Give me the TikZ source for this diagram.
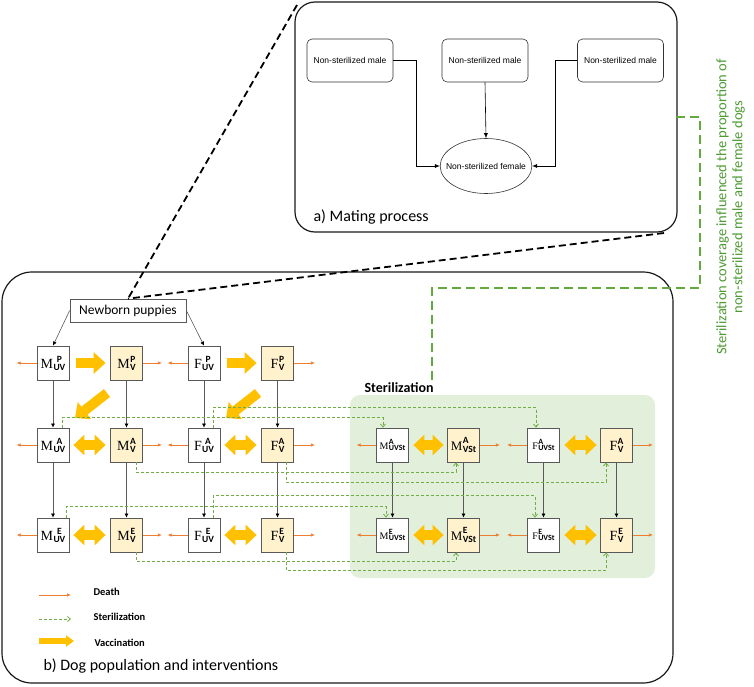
\documentclass[tikz,border=0pt]{standalone}
\usepackage{fontspec}
\setmainfont{Carlito}
\newfontfamily\serifm{Liberation Serif}
\newfontfamily\arialf{Liberation Sans}
\usetikzlibrary{arrows.meta,shapes.geometric,calc}
\definecolor{boxgray}{HTML}{595959}
\definecolor{vfill}{HTML}{FFF2CC}
\definecolor{deathc}{HTML}{ED7D31}
\definecolor{sterc}{HTML}{70AD47}
\definecolor{vaccc}{HTML}{FFC000}
\definecolor{stbg}{HTML}{E2EFDA}
\definecolor{bigg}{HTML}{62AA40}
\definecolor{txtg}{HTML}{4E9A34}
\newdimen\stkw
% #1 main size, #2 script size, #3 sup raise, #4 sub lower, #5 align, #6 letter, #7 sup, #8 sub
\newcommand\stklab[8]{\mbox{{\serifm\fontsize{#1}{#1}\selectfont #6}\kern0.4pt%
  \begingroup\fontsize{#2}{#2}\selectfont\bfseries
  \setbox0\hbox{#7}\setbox2\hbox{#8}%
  \ifdim\wd0>\wd2 \global\stkw=\wd0 \else\global\stkw=\wd2 \fi
  \makebox[\stkw][#5]{\raisebox{#3}{\box0}}\kern-\stkw
  \makebox[\stkw][#5]{\raisebox{-#4}{\box2}}%
  \endgroup}}
\newcommand\dl[3]{\stklab{14}{9.5}{6.3pt}{1.7pt}{c}{#1}{#2}{#3}}
\newcommand\dls[3]{\stklab{10}{8}{5pt}{1.5pt}{l}{#1}{#2}{#3}}
\newcommand\dlm[3]{\stklab{13}{9.5}{6.8pt}{2pt}{l}{#1}{#2}{#3}}
\tikzset{
  panel/.style={draw=black!90, line width=1.2pt},
  mate/.style={draw=black!80, line width=0.6pt, rounded corners=5pt, minimum width=86pt, minimum height=43pt, inner sep=0pt, font=\arialf\fontsize{8.5}{8.5}\selectfont},
  matearr/.style={draw=black, line width=0.6pt, -{Latex[length=5pt,width=4pt]}},
  bigdash/.style={draw=black, line width=1.8pt, dash pattern=on 7pt off 4pt},
  greendash/.style={draw=bigg, line width=2pt, dash pattern=on 9pt off 5pt},
  box/.style={draw=boxgray, line width=0.8pt, minimum width=32pt, minimum height=34pt, inner sep=0pt},
  uv/.style={box, fill=white},
  vv/.style={box, fill=vfill},
  death/.style={draw=deathc, line width=0.7pt, -{Latex[length=4pt,width=3.5pt]}},
  flow/.style={draw=boxgray, line width=0.6pt, -{Latex[length=4pt,width=4pt,color=black]}},
  steril/.style={draw=sterc, line width=0.8pt, dash pattern=on 3pt off 2pt, -{Straight Barb[length=3pt,width=5pt]}},
  vacc/.style={draw=vaccc, line width=10pt, -{Triangle[length=12pt,width=21pt]}},
  vaccd/.style={draw=vaccc, line width=10pt, {Triangle[length=11pt,width=20pt]}-{Triangle[length=11pt,width=20pt]}},
  vaccs/.style={draw=vaccc, line width=6pt, -{Triangle[length=8pt,width=11pt]}},
  legtxt/.style={anchor=west, font=\bfseries\fontsize{10.5}{10.5}\selectfont},
  ptitle/.style={anchor=west, font=\fontsize{16}{16}\selectfont},
}
\begin{document}
\begin{tikzpicture}[x=1pt,y=-1pt]
\useasboundingbox (0,0) rectangle (754,686);

% ---------- panel a ----------
\draw[panel, rounded corners=20pt] (295,2) rectangle (677,232);
\coordinate (aTL) at (297,5);
\coordinate (aBR) at (664,233);
\coordinate (aR) at (676,117);
\node[mate] (m1) at (350,60.5) {Non-sterilized male};
\node[mate] (m2) at (485,60.5) {Non-sterilized male};
\node[mate] (m3) at (620.5,60.5) {Non-sterilized male};
\node[ellipse, draw=black!80, line width=0.6pt, minimum height=55pt, inner xsep=-7.5pt, inner ysep=0pt,
      font=\arialf\fontsize{8.5}{8.5}\selectfont] (fem) at (486,166) {Non-sterilized female};
\draw[matearr] (m1.east) -- ++(23,0) |- (fem.west);
\draw[matearr] (m3.west) -- ++(-22,0) |- (fem.east);
\draw[matearr] (m2.south) -- (fem.north);
\node[ptitle] (ta) at (310,217) {a) Mating process};

% ---------- panel b ----------
\draw[panel, rounded corners=30pt] (2,272) rectangle (673,683);
\node[draw=boxgray, line width=0.7pt, minimum width=116pt, minimum height=23pt, inner sep=0pt,
      font=\fontsize{13.5}{13.5}\selectfont] (nb) at (128,310.5) {Newborn puppies};

\draw[bigdash] (aTL) -- (nb.north);
\draw[bigdash] (aBR) -- (nb.north);

% sterilization background
\fill[stbg, rounded corners=10pt] (350,395) rectangle (655,578);
\node[anchor=west, font=\bfseries\fontsize{14}{14}\selectfont] (stl) at (361,388) {Sterilization};

% green influence line and text
\coordinate (gEnd) at (432,381);
\draw[greendash] (aR) -- (700,117) -- (700,288) -- (432,288) -- (gEnd);
\node[rotate=90, align=center, text=txtg, font=\fontsize{14.5}{16}\selectfont] (gt) at (730.5,207)
  {Sterilization coverage influenced the proportion of\\non-sterilized male and female dogs};

% boxes
\node[uv] (muvP) at (53,363) {\dl{M}{P}{UV}};
\node[vv] (mvP) at (126.5,363) {\dl{M}{P}{V}};
\node[uv] (fuvP) at (204,363) {\dl{F}{P}{UV}};
\node[vv] (fvP) at (277.5,363) {\dl{F}{P}{V}};
\node[uv] (muvA) at (53,445) {\dl{M}{A}{UV}};
\node[vv] (mvA) at (126.5,445) {\dl{M}{A}{V}};
\node[uv] (fuvA) at (204,445) {\dl{F}{A}{UV}};
\node[vv] (fvA) at (277.5,445) {\dl{F}{A}{V}};
\node[uv] (muvE) at (53,535) {\dl{M}{E}{UV}};
\node[vv] (mvE) at (126.5,535) {\dl{M}{E}{V}};
\node[uv] (fuvE) at (204,535) {\dl{F}{E}{UV}};
\node[vv] (fvE) at (277.5,535) {\dl{F}{E}{V}};

\node[uv] (smuvA) at (392.5,445) {\dls{M}{A}{UVSt}};
\node[vv] (smvA) at (463.5,445) {\dlm{M}{A}{VSt}};
\node[uv] (sfuvA) at (543.5,445) {\dls{F}{A}{UVSt}};
\node[vv] (sfvA) at (616.5,445) {\dl{F}{A}{V}};
\node[uv] (smuvE) at (392.5,535) {\dls{M}{E}{UVSt}};
\node[vv] (smvE) at (463.5,535) {\dlm{M}{E}{VSt}};
\node[uv] (sfuvE) at (543.5,535) {\dls{F}{E}{UVSt}};
\node[vv] (sfvE) at (616.5,535) {\dl{F}{E}{V}};

% newborn arrows
\draw[draw=boxgray, line width=0.6pt, -{Latex[length=4pt,width=4pt,color=black]}] (nb.west) -- (muvP.north);
\draw[draw=boxgray, line width=0.6pt, -{Latex[length=4pt,width=4pt,color=black]}] (nb.east) -- (fuvP.north);

% vertical flows
\foreach \c in {muv,mv,fuv,fv} {
  \draw[flow] (\c P.south) -- (\c A.north);
  \draw[flow] (\c A.south) -- (\c E.north);
}
\foreach \c in {smuv,smv,sfuv,sfv} {
  \draw[flow] (\c A.south) -- (\c E.north);
}

% death arrows
\foreach \r in {P,A,E} {
  \draw[death] (muv\r.west) -- ++(-20,0);
  \draw[death] (mv\r.east) -- ++(19,0);
  \draw[death] (fuv\r.west) -- ++(-20,0);
  \draw[death] (fv\r.east) -- ++(21,0);
}
\foreach \r in {A,E} {
  \draw[death] (smuv\r.west) -- ++(-19.5,0);
  \draw[death] (smv\r.east) -- ++(20,0);
  \draw[death] (sfuv\r.west) -- ++(-20,0);
  \draw[death] (sfv\r.east) -- ++(20,0);
}

% vaccination arrows
\draw[vacc] ([xshift=7pt]muvP.east) -- ([xshift=-4.5pt]mvP.west);
\draw[vacc] ([xshift=7pt]fuvP.east) -- ([xshift=-4.5pt]fvP.west);
\foreach \r in {A,E} {
  \draw[vaccd] ([xshift=4pt]muv\r.east) -- ([xshift=-4.5pt]mv\r.west);
  \draw[vaccd] ([xshift=4pt]fuv\r.east) -- ([xshift=-4.5pt]fv\r.west);
  \draw[vaccd] ([xshift=4.5pt]smuv\r.east) -- ([xshift=-3.5pt]smv\r.west);
  \draw[vaccd] ([xshift=4.5pt]sfuv\r.east) -- ([xshift=-3.5pt]sfv\r.west);
}
\coordinate (d1s) at (107,393); \coordinate (d1e) at (75,418);
\coordinate (d2s) at (258,393); \coordinate (d2e) at (226,418);
\draw[vacc] (d1s) -- (d1e);
\draw[vacc] (d2s) -- (d2e);

% sterilization dashed arrows
\draw[steril] ([xshift=9pt]muvA.north) -- ++(0,-10) -| ([xshift=-9.5pt]smuvA.north);
\draw[steril] ([xshift=9pt]fuvA.north) -- ++(0,-20) -| ([xshift=-7.5pt]sfuvA.north);
\draw[steril] ([xshift=9.5pt]mvA.south) -- ++(0,10) -| ([xshift=-7.5pt]smvA.south);
\draw[steril] ([xshift=8.5pt]fvA.south) -- ++(0,20) -| ([xshift=-10.5pt]sfvA.south);
\draw[steril] ([xshift=13pt]muvE.north) -- ++(0,-11) -| ([xshift=-6.5pt]smuvE.north);
\draw[steril] ([xshift=9pt]fuvE.north) -- ++(0,-22) -| ([xshift=-8.5pt]sfuvE.north);
\draw[steril] ([xshift=9.5pt]mvE.south) -- ++(0,9) -| ([xshift=-7.5pt]smvE.south);
\draw[steril] ([xshift=8.5pt]fvE.south) -- ++(0,18) -| ([xshift=-10.5pt]sfvE.south);

% legend
\coordinate (l1a) at (39,595); \coordinate (l1b) at (71,595);
\coordinate (l2a) at (39,619); \coordinate (l2b) at (71,619);
\coordinate (l3a) at (39,641); \coordinate (l3b) at (74,641);
\draw[death] (l1a) -- (l1b);
\draw[steril] (l2a) -- (l2b);
\draw[vaccs] (l3a) -- (l3b);
\node[legtxt] (lt1) at (90,592) {Death};
\node[legtxt] (lt2) at (90,617) {Sterilization};
\node[legtxt] (lt3) at (91,643) {Vaccination};

\node[ptitle] (tb) at (40,666) {b) Dog population and interventions};
\end{tikzpicture}
\end{document}
